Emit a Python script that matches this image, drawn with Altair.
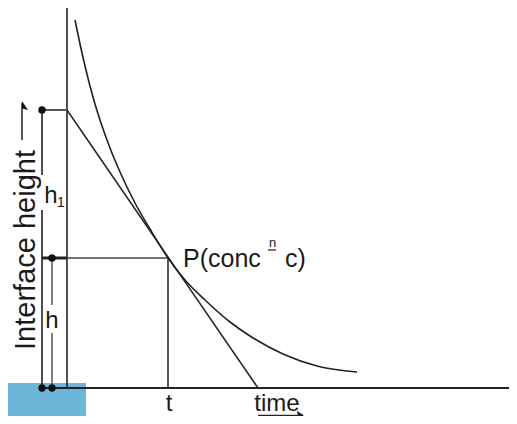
import altair as alt
import pandas as pd

# Settling curve: interface height vs time (diagram units: time from the height axis, height above the time axis)
curve_time = [8, 13, 18, 23, 28, 33, 43, 53, 68, 83, 101, 118, 138, 163, 183, 216, 250, 290]
curve_height = [368, 344, 322, 302, 284, 268, 240, 216, 185, 159, 130, 108, 88, 66, 52, 34, 22, 16]

# Key quantities
t_P = 101        # time at point P
h_P = 130        # interface height at P (h)
h_1 = 278        # intercept of tangent (h1)
t_end = 191      # tangent meets time axis
axis_top = 380
axis_right = 450
x_left = -25     # h1 bracket
x_mid = -15      # h bracket

# Segments: x, y, x2, y2, colour, width
seg_x  = [0, -25, 0, -25, -25, x_left, x_left, x_mid, x_mid, t_P, -45, 0, 191]
seg_y  = [0, 0, h_1, h_1, h_P, 0, 213, 0, 83, 0, 248, h_P, -27.5]
seg_x2 = [0, axis_right, t_end, 0, 0, x_left, x_left, x_mid, x_mid, t_P, -45, t_P, 236]
seg_y2 = [axis_top, 0, 0, h_1, h_P, 178, h_1, 55, h_P, h_P, 285, h_P, -27.5]
seg_c  = ["#222", "#222", "#222", "#555", "#222", "#222", "#222", "#555", "#555", "#222", "#222", "#444", "#222"]
seg_w  = [1.6, 1.8, 1.5, 2.0, 3.0, 1.6, 1.6, 1.5, 1.5, 1.5, 1.5, 1.5, 1.5]

dot_x = [x_left, x_mid, x_left, x_mid]
dot_y = [h_1, h_P, 0, 0]

# Labels (centred)
lab_text = ["t", "time", "h", "h"]
lab_x = [102, 210, -16, -15]
lab_y = [-23, -23, 185, 60]

# Point label (left aligned)
p_text = ["P(conc", "c)"]
p_x = [116, 218]
p_y = [121, 121]

small_text = ["1", "n"]
small_x = [-6, 205.5]
small_y = [181, 141]
small_size = [14, 13]

ylabel = "Interface height"

# Blue box at bottom-left
box_x, box_x2, box_y, box_y2 = [-67], [19], [5], [-36]

xs = alt.Scale(domain=[-59, 442], nice=False, zero=False)
ys = alt.Scale(domain=[-28, 380], nice=False, zero=False)

def X(f):
    return alt.X(f, scale=xs, axis=None)

def Y(f):
    return alt.Y(f, scale=ys, axis=None)

box = alt.Chart(pd.DataFrame({"x": box_x, "x2": box_x2, "y": box_y, "y2": box_y2})).mark_rect(
    color="#6cb7d9"
).encode(x=X("x:Q"), x2="x2:Q", y=Y("y:Q"), y2="y2:Q")

segs = alt.Chart(pd.DataFrame({"x": seg_x, "y": seg_y, "x2": seg_x2, "y2": seg_y2,
                               "c": seg_c, "w": seg_w})).mark_rule().encode(
    x=X("x:Q"), x2="x2:Q", y=Y("y:Q"), y2="y2:Q",
    color=alt.Color("c:N", scale=None),
    strokeWidth=alt.StrokeWidth("w:Q", scale=None),
)

curve = alt.Chart(pd.DataFrame({"t": curve_time, "h": curve_height})).mark_line(
    color="#222", strokeWidth=1.6, interpolate="monotone"
).encode(x=X("t:Q"), y=Y("h:Q"), order="t:Q")

dots = alt.Chart(pd.DataFrame({"x": dot_x, "y": dot_y})).mark_circle(
    color="#111", size=55, opacity=1
).encode(x=X("x:Q"), y=Y("y:Q"))

head_v = alt.Chart(pd.DataFrame({"x": [-45], "y": [282]})).mark_point(
    shape="M0,-1 L1.2,0.8 L0,0.5 Z", filled=True, color="#111", size=100, opacity=1
).encode(x=X("x:Q"), y=Y("y:Q"))

head_h = alt.Chart(pd.DataFrame({"x": [233], "y": [-27.5]})).mark_point(
    shape="M1,0 L-0.8,-1.2 L-0.5,0 Z", filled=True, color="#111", size=64, opacity=1
).encode(x=X("x:Q"), y=Y("y:Q"))

labels = alt.Chart(pd.DataFrame({"text": lab_text, "x": lab_x, "y": lab_y})).mark_text(
    font="Liberation Sans", color="#1a1a1a", baseline="alphabetic", align="center", fontSize=24
).encode(x=X("x:Q"), y=Y("y:Q"), text="text:N")

plabels = alt.Chart(pd.DataFrame({"text": p_text, "x": p_x, "y": p_y})).mark_text(
    font="Liberation Sans", color="#1a1a1a", baseline="alphabetic", align="left", fontSize=25
).encode(x=X("x:Q"), y=Y("y:Q"), text="text:N")

small = alt.Chart(pd.DataFrame({"text": small_text, "x": small_x, "y": small_y,
                                "s": small_size})).mark_text(
    font="Liberation Sans", color="#1a1a1a", baseline="alphabetic", align="center"
).encode(x=X("x:Q"), y=Y("y:Q"), text="text:N", size=alt.Size("s:Q", scale=None))

underline = alt.Chart(pd.DataFrame({"x": [201], "x2": [209], "y": [138]})).mark_rule(
    color="#1a1a1a", strokeWidth=1.2
).encode(x=X("x:Q"), x2="x2:Q", y=Y("y:Q"))

ytitle = alt.Chart(pd.DataFrame({"text": [ylabel], "x": [-32.5], "y": [138]})).mark_text(
    font="Liberation Sans", color="#1a1a1a", fontSize=29, angle=270,
    align="center", baseline="alphabetic"
).encode(x=X("x:Q"), y=Y("y:Q"), text="text:N")

chart = alt.layer(box, segs, curve, dots, head_v, head_h, labels, plabels, small, underline, ytitle).properties(
    width=501, height=408, padding=0, autosize=alt.AutoSizeParams(type="none"),
    background="white",
).configure_view(stroke=None)

chart.save("out.html", embed_options={"renderer": "svg", "actions": False})
